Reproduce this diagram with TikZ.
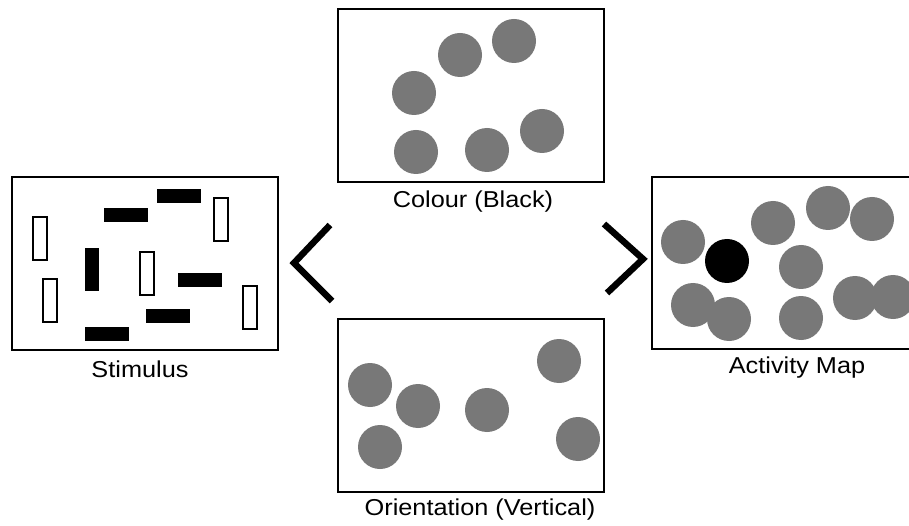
\documentclass[tikz,border=0pt]{standalone}
\usepackage{fontspec}
\setmainfont[FakeStretch=1.1]{Liberation Sans}
\begin{document}
\begin{tikzpicture}[x=1pt,y=-1pt,
  panel/.style={draw=black,line width=1.8pt,fill=white},
  blob/.style={fill=blobgray},
  hotblob/.style={fill=black},
  bar/.style={fill=black},
  slot/.style={draw=black,line width=1.4pt,fill=white},
  caption/.style={font=\fontsize{23}{26}\selectfont,inner sep=0pt},
  chevron/.style={line width=6.5pt,line join=miter,line cap=butt}]
\definecolor{blobgray}{RGB}{120,120,120}
\useasboundingbox (0,0) rectangle (909,526);
\clip (0,0) rectangle (909,526);

% Stimulus panel
\draw[panel] (12,177) rectangle (278,350);
\node[caption] (stimcap) at (140,369) {Stimulus};
\foreach \x/\y in {33/217, 43/279, 140/252, 214/198, 243/286}
  \draw[slot] (\x,\y) rectangle ++(14,43);
\fill[bar] (85,248) rectangle ++(14,43);
\foreach \x/\y in {104/208, 157/189, 178/273, 146/309, 85/327}
  \fill[bar] (\x,\y) rectangle ++(44,14);

% Colour map
\draw[panel] (338,9) rectangle (604,182);
\node[caption] (colcap) at (473,202) {Colour (Black)};
\foreach \x/\y in {414/93, 460/55, 514/41, 416/152, 487/150, 542/131}
  \fill[blob] (\x,\y) circle (22);

% Orientation map
\draw[panel] (338,319) rectangle (604,492);
\node[caption] (oricap) at (480,510) {Orientation (Vertical)};
\foreach \x/\y in {370/385, 418/406, 380/447, 487/410, 559/361, 578/439}
  \fill[blob] (\x,\y) circle (22);

% Activity map
\draw[panel] (652,177) rectangle (930,349);
\node[caption] (actcap) at (797,368) {Activity Map};
\foreach \x/\y in {683/242, 773/223, 828/208, 872/219, 801/267, 693/305, 729/319, 801/318, 855/298, 893/297}
  \fill[blob] (\x,\y) circle (22);
\fill[hotblob] (727,261) circle (22);

% Chevrons between the stages
\coordinate (lt) at (330,225);
\coordinate (lv) at (294,263);
\coordinate (lb) at (332,301);
\draw[chevron] (lt) -- (lv) -- (lb);
\coordinate (rt) at (604,224);
\coordinate (rv) at (643,259);
\coordinate (rb) at (607,293);
\draw[chevron] (rt) -- (rv) -- (rb);
\end{tikzpicture}
\end{document}
